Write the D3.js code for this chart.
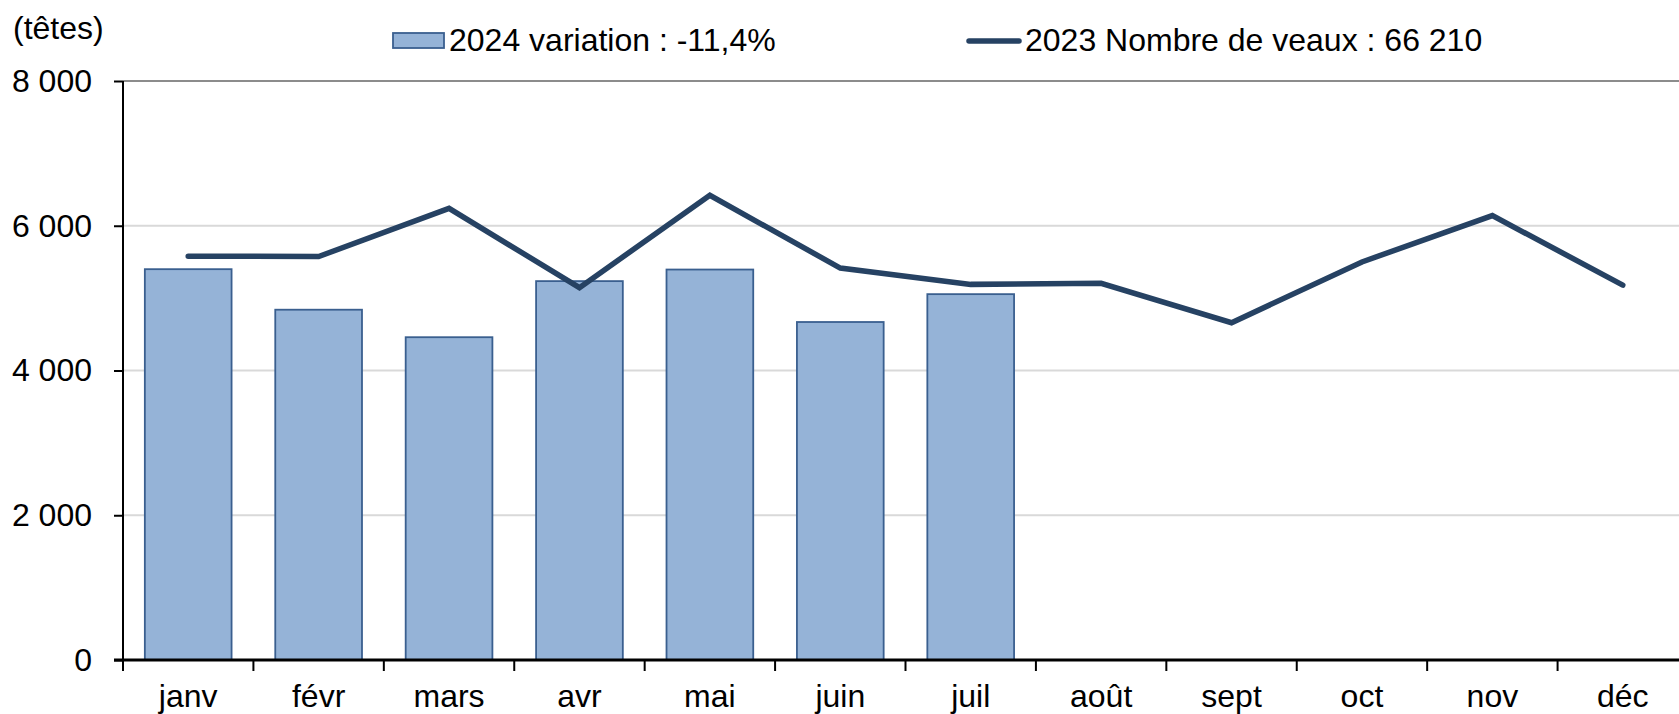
<!DOCTYPE html>
<html>
<head>
<meta charset="utf-8">
<script src="https://cdn.jsdelivr.net/npm/d3@7"></script>
<style>
  body { margin: 0; background: #fff; }
  svg { display: block; font-family: "Liberation Sans", Arial, sans-serif; }
</style>
</head>
<body>
<div id="chart"></div>
<script>
// data
var months = ["janv", "févr", "mars", "avr", "mai", "juin", "juil", "août", "sept", "oct", "nov", "déc"];
var veaux2024 = [5400, 4840, 4460, 5235, 5395, 4670, 5055];
var veaux2023 = [5580, 5575, 6240, 5145, 6420, 5415, 5190, 5205, 4660, 5500, 6140, 5180];
var yTicks = [0, 2000, 4000, 6000, 8000];
var label2024 = "2024 variation : -11,4%";
var label2023 = "2023 Nombre de veaux : 66 210";

var width = 1679, height = 714;
var margin = {top: 81, left: 123, bottom: 660};
var plotRight = 1688; // the plot runs a bit past the right edge
var fontSize = "32px";

var svg = d3.select("#chart").append("svg")
  .attr("width", width)
  .attr("height", height);

var x = d3.scaleBand()
  .domain(months)
  .range([margin.left, plotRight])
  .paddingInner(0.335)
  .paddingOuter(0.1675);

var xBand = d3.scaleBand()
  .domain(months)
  .range([margin.left, plotRight]);

var y = d3.scaleLinear()
  .domain([0, 8000])
  .range([margin.bottom, margin.top]);

// gridlines
svg.append("g")
  .selectAll("line")
  .data(yTicks.filter(function(d){ return d > 0; }))
  .enter().append("line")
    .attr("x1", margin.left)
    .attr("x2", width)
    .attr("y1", function(d){ return y(d); })
    .attr("y2", function(d){ return y(d); })
    .style("stroke", function(d){ return d === 8000 ? "#8c8c8c" : "#d9d9d9"; })
    .style("stroke-width", 2);

// bars 2024
svg.append("g")
  .selectAll("rect")
  .data(veaux2024)
  .enter().append("rect")
    .attr("x", function(d, i){ return x(months[i]); })
    .attr("width", x.bandwidth())
    .attr("y", function(d){ return y(d); })
    .attr("height", function(d){ return y(0) - y(d); })
    .style("fill", "#95b3d7")
    .style("stroke", "#3a5f8f")
    .style("stroke-width", 1.8);

// line 2023
var line = d3.line()
  .x(function(d, i){ return xBand(months[i]) + xBand.bandwidth() / 2; })
  .y(function(d){ return y(d); });

svg.append("path")
  .datum(veaux2023)
  .attr("d", line)
  .style("fill", "none")
  .style("stroke", "#264263")
  .style("stroke-width", 5.5)
  .style("stroke-linecap", "round")
  .style("stroke-linejoin", "miter");

// y axis
var yAxis = d3.axisLeft(y)
  .tickValues(yTicks)
  .tickSize(9)
  .tickPadding(22)
  .tickFormat(function(d){ return d3.format(",")(d).replace(",", " "); });

var yG = svg.append("g")
  .attr("transform", "translate(" + margin.left + ",0)")
  .call(yAxis);
yG.select(".domain").remove();
yG.selectAll("line").style("stroke", "#000").style("stroke-width", 2);
yG.selectAll("text")
  .style("font-size", fontSize)
  .style("fill", "#000")
  .style("font-family", "Liberation Sans, Arial, sans-serif");
svg.append("line")
  .attr("x1", margin.left).attr("x2", margin.left)
  .attr("y1", y(8000)).attr("y2", y(0))
  .style("stroke", "#000")
  .style("stroke-width", 2);

// x axis: ticks between categories
svg.append("g")
  .selectAll("line")
  .data(months)
  .enter().append("line")
    .attr("x1", function(d){ return xBand(d); })
    .attr("x2", function(d){ return xBand(d); })
    .attr("y1", y(0))
    .attr("y2", y(0) + 11)
    .style("stroke", "#000")
    .style("stroke-width", 2);

svg.append("line")
  .attr("x1", margin.left - 9).attr("x2", width)
  .attr("y1", y(0)).attr("y2", y(0))
  .style("stroke", "#000")
  .style("stroke-width", 3);

svg.append("g")
  .selectAll("text")
  .data(months)
  .enter().append("text")
    .attr("x", function(d){ return xBand(d) + xBand.bandwidth() / 2; })
    .attr("y", 707)
    .attr("text-anchor", "middle")
    .style("font-size", fontSize)
    .text(function(d){ return d; });

// unit
svg.append("text")
  .attr("x", 13)
  .attr("y", 39)
  .style("font-size", fontSize)
  .text("(têtes)");

// legend
var legend = svg.append("g");
legend.append("rect")
  .attr("x", 393).attr("y", 33)
  .attr("width", 51).attr("height", 15)
  .style("fill", "#95b3d7")
  .style("stroke", "#3a5f8f")
  .style("stroke-width", 1.8);
legend.append("text")
  .attr("x", 449).attr("y", 51)
  .style("font-size", fontSize)
  .text(label2024);
legend.append("line")
  .attr("x1", 969).attr("x2", 1019)
  .attr("y1", 41).attr("y2", 41)
  .style("stroke", "#264263")
  .style("stroke-width", 5.5)
  .style("stroke-linecap", "round");
legend.append("text")
  .attr("x", 1025).attr("y", 51)
  .style("font-size", fontSize)
  .text(label2023);
</script>
</body>
</html>
